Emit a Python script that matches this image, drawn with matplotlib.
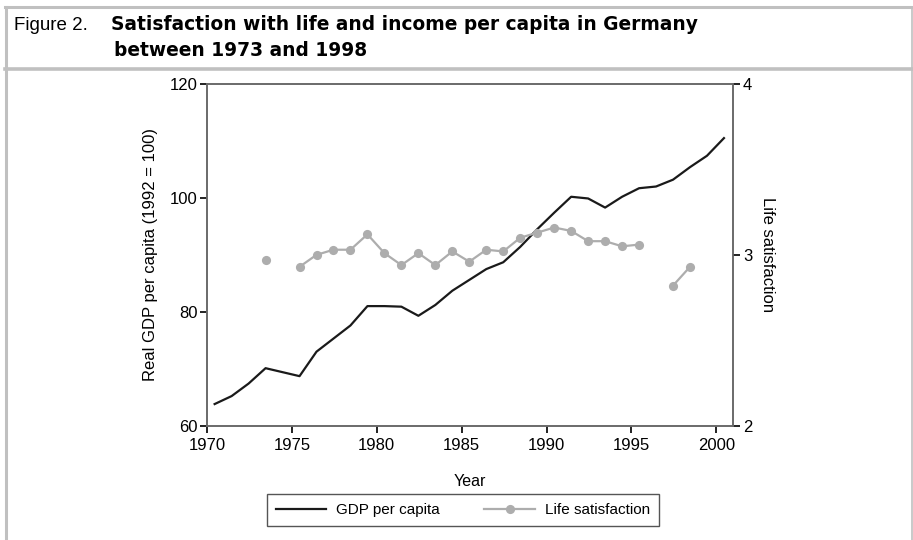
#!/usr/bin/env python
# -*- coding: utf-8 -*-
"""Satisfaction with life and GDP per capita in Germany, 1970-2000."""

import matplotlib
matplotlib.use('Agg')
import matplotlib.pyplot as plt
import numpy as np
from matplotlib.lines import Line2D

# GDP per capita (1992 = 100), one value per year.
GDP_YEARS = list(range(1970, 2001))
GDP_VALUES = [63.8, 65.2, 67.4, 70.1, 69.4, 68.7, 73.0, 75.3, 77.6, 81.0,
              81.0, 80.9, 79.3, 81.2, 83.7, 85.6, 87.5, 88.7, 91.4, 94.5,
              97.4, 100.2, 99.9, 98.3, 100.2, 101.7, 102.0, 103.2, 105.4,
              107.4, 110.5]

# Life satisfaction (None = no survey that year).
LS_YEARS = list(range(1973, 1999))
LS_VALUES = [2.97, None, 2.93, 3.00, 3.03, 3.03, 3.12, 3.01, 2.94, 3.01,
             2.94, 3.02, 2.96, 3.03, 3.02, 3.10, 3.13, 3.16, 3.14, 3.08,
             3.08, 3.05, 3.06, None, 2.82, 2.93]

X_TICKS = [1970, 1975, 1980, 1985, 1990, 1995, 2000]
GDP_TICKS = [60, 80, 100, 120]
LS_TICKS = [2, 3, 4]

MID_YEAR = 0.45  # observations sit mid-year
FRAME = '#c0c0c0'
GREY = '#adadad'
SPINE = '#6a6a6a'


def main():
  plt.rcParams['font.family'] = ['Liberation Sans', 'DejaVu Sans']
  fig = plt.figure(figsize=(9.13, 5.4), dpi=100)

  # Outer frame and title header.
  fig.add_artist(Line2D([0.0068, 0.0068], [0, 0.9875], color=FRAME, lw=2.2,
                        transform=fig.transFigure))
  fig.add_artist(Line2D([0.9985, 0.9985], [0, 0.9875], color=FRAME, lw=1.2,
                        transform=fig.transFigure))
  fig.add_artist(Line2D([0.005, 0.9995], [0.9865, 0.9865], color=FRAME,
                        lw=2.2, transform=fig.transFigure))
  fig.add_artist(Line2D([0.005, 0.9995], [0.8725, 0.8725], color=FRAME,
                        lw=2.6, transform=fig.transFigure))
  fig.text(14 / 913, 1 - 25 / 540, 'Figure 2.', fontsize=13.5, va='center')
  fig.text(111 / 913, 1 - 25 / 540,
           'Satisfaction with life and income per capita in Germany',
           fontsize=13.4, va='center', fontweight='bold',
           family=['DejaVu Sans'])
  fig.text(114 / 913, 1 - 50 / 540, 'between 1973 and 1998',
           fontsize=13.4, va='center', fontweight='bold',
           family=['DejaVu Sans'])

  ax = fig.add_axes([207 / 913, 1 - 425.7 / 540, 526.3 / 913, 341.7 / 540])
  ax2 = ax.twinx()

  gdp_x = np.array(GDP_YEARS) + MID_YEAR
  ls_x = np.array(LS_YEARS) + MID_YEAR
  ls_y = np.array([np.nan if v is None else v for v in LS_VALUES])

  ax.plot(gdp_x, GDP_VALUES, color='#1a1a1a', lw=1.6, zorder=3,
          label='GDP per capita')
  ax2.plot(ls_x, ls_y, color=GREY, lw=1.6, marker='o', ms=6.6,
           markeredgewidth=0, label='Life satisfaction')

  ax.set_xlim(1970, 2001)
  ax.set_ylim(60, 120)
  ax2.set_ylim(2, 4)
  ax.set_xticks(X_TICKS)
  ax.set_yticks(GDP_TICKS)
  ax2.set_yticks(LS_TICKS)

  for a in (ax, ax2):
    for side in ('left', 'right', 'top', 'bottom'):
      a.spines[side].set_color(SPINE)
      a.spines[side].set_linewidth(1.2)
    a.tick_params(direction='out', length=5, width=1.3, color='#111111',
                  labelsize=12, pad=2)
  ax.tick_params(axis='x', pad=4)

  ax.set_xlabel('Year', fontsize=11.5, labelpad=15)
  ax.set_ylabel('Real GDP per capita (1992 = 100)', fontsize=12,
                labelpad=8)
  ax2.set_ylabel('Life satisfaction', fontsize=12, rotation=-90,
                 labelpad=16)

  h1, l1 = ax.get_legend_handles_labels()
  h2, l2 = ax2.get_legend_handles_labels()
  leg = fig.legend(h1 + h2, l1 + l2, ncol=2, loc='center',
                   bbox_to_anchor=(463 / 913, 1 - 510 / 540),
                   fontsize=11, fancybox=False, framealpha=1,
                   edgecolor='#555555', handlelength=3.3, columnspacing=2.9,
                   borderpad=0.6, handletextpad=0.65)
  leg.get_frame().set_linewidth(1.0)

  fig.savefig('out.png', dpi=100)
  plt.close(fig)


if __name__ == '__main__':
  main()
